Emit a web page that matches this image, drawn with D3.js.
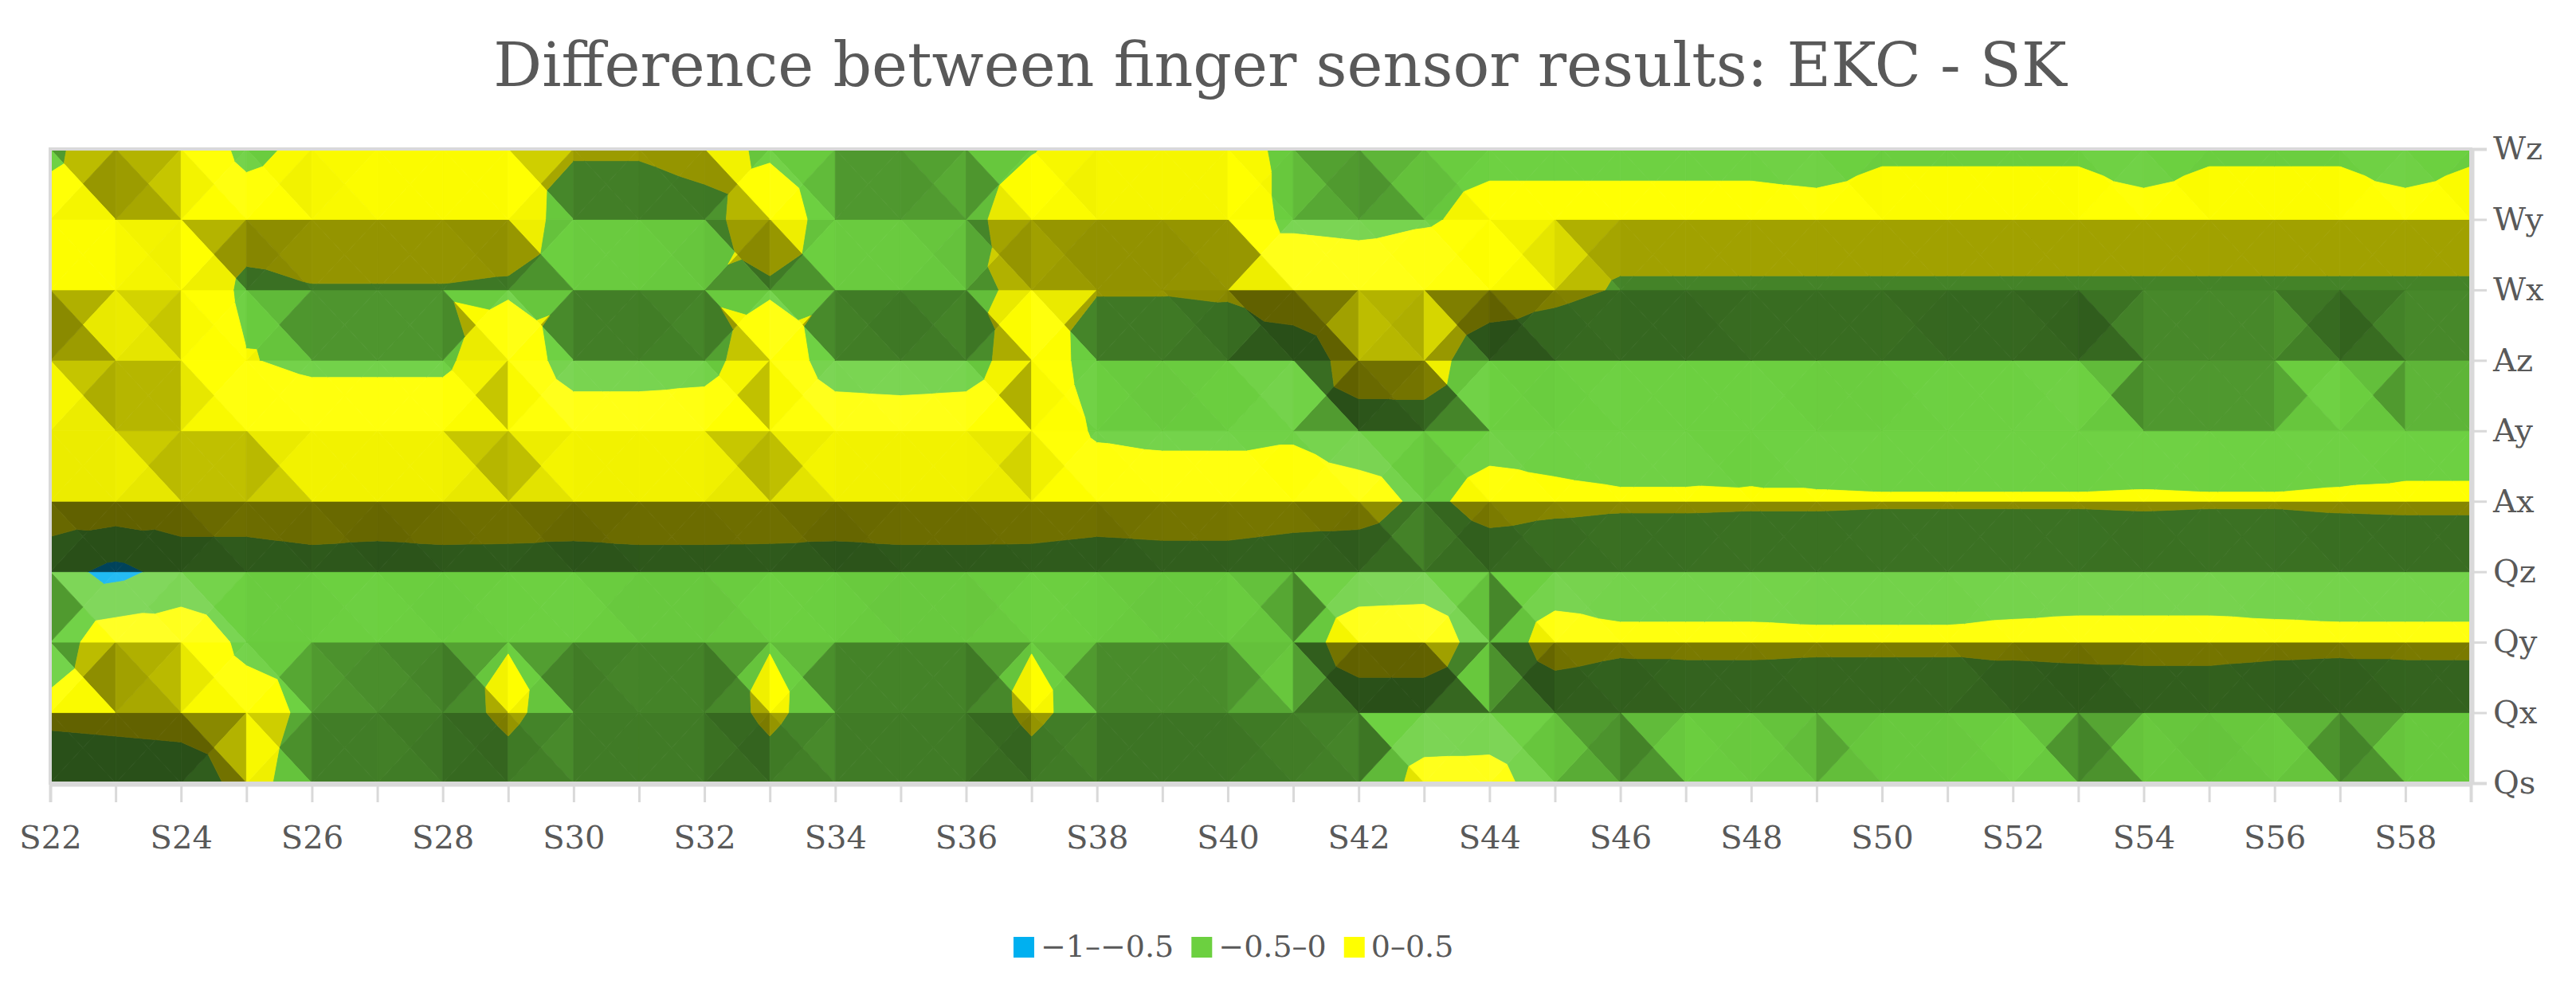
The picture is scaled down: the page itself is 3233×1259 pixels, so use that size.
<!DOCTYPE html>
<html>
<head>
<meta charset="utf-8">
<script src="https://cdn.jsdelivr.net/npm/d3@7"></script>
<style>
  body { margin: 0; background: #fff; }
  svg { font-family: "DejaVu Serif", serif; }
</style>
</head>
<body>
<svg id="chart"></svg>
<script>
var categories = [];
for (var k = 22; k <= 59; k++) categories.push("S" + k);

var rows = ["Qs", "Qx", "Qy", "Qz", "Ax", "Ay", "Az", "Wx", "Wy", "Wz"];

// one array per sensor row, S22..S59
var Qs = [-0.45,-0.4,-0.35,0.2,-0.3,-0.35,-0.45,-0.2,-0.45,-0.45,-0.45,-0.2,-0.45,-0.45,-0.45,-0.2,-0.45,-0.45,-0.45,-0.45,-0.45,0.2,0.2,-0.3,-0.45,-0.15,-0.2,-0.3,-0.2,-0.2,-0.2,-0.45,-0.2,-0.25,-0.25,-0.45,-0.2,-0.2];
var Qx = [0.15,0.2,0.25,0.2,-0.1,-0.15,-0.2,0.1,-0.25,-0.25,-0.25,0.1,-0.25,-0.25,-0.25,0.1,-0.2,-0.2,-0.2,-0.25,-0.3,-0.35,-0.3,-0.3,-0.35,-0.3,-0.3,-0.3,-0.3,-0.3,-0.35,-0.35,-0.3,-0.3,-0.35,-0.35,-0.3,-0.3];
var Qy = [-0.3,0.35,0.3,-0.1,-0.05,-0.05,-0.05,-0.02,-0.05,-0.1,-0.1,-0.02,-0.1,-0.1,-0.1,-0.02,-0.1,-0.1,-0.1,-0.3,0.3,0.35,-0.3,0.2,0.1,0.1,0.1,0.08,0.08,0.08,0.12,0.15,0.15,0.15,0.12,0.1,0.1,0.1];
var Qz = [-0.3,-0.65,-0.3,-0.25,-0.2,-0.25,-0.2,-0.2,-0.25,-0.2,-0.2,-0.2,-0.25,-0.2,-0.2,-0.2,-0.25,-0.2,-0.2,-0.25,-0.3,-0.3,-0.25,-0.25,-0.25,-0.25,-0.25,-0.25,-0.25,-0.25,-0.25,-0.25,-0.25,-0.25,-0.25,-0.25,-0.25,-0.25];
var Ax = [0.3,0.35,0.3,0.25,0.32,0.32,0.32,0.3,0.32,0.32,0.32,0.3,0.32,0.32,0.32,0.3,0.25,0.25,0.25,0.2,0.2,-0.1,0.15,0.08,0.05,0.05,0.04,0.04,0.03,0.03,0.03,0.03,0.04,0.03,0.03,0.05,0.06,0.06];
var Ay = [0.25,0.3,0.35,0.3,0.25,0.25,0.25,0.35,0.25,0.25,0.25,0.35,0.25,0.25,0.25,0.3,-0.05,-0.1,-0.1,-0.05,-0.25,-0.2,-0.15,-0.15,-0.2,-0.2,-0.15,-0.2,-0.2,-0.2,-0.2,-0.2,-0.2,-0.2,-0.2,-0.2,-0.15,-0.15];
var Az = [0.1,0.35,0.4,0.02,-0.08,-0.08,-0.08,0.3,-0.2,-0.2,-0.15,0.3,-0.2,-0.25,-0.2,0.3,-0.2,-0.2,-0.25,-0.4,0.3,0.25,-0.35,-0.3,-0.4,-0.4,-0.35,-0.35,-0.35,-0.4,-0.4,-0.45,-0.15,-0.15,-0.15,-0.4,-0.15,-0.15];
var Wx = [0.35,0.3,0.4,-0.1,-0.02,-0.02,-0.02,-0.05,-0.02,-0.02,-0.02,-0.05,-0.02,-0.02,-0.05,0.05,0.02,0.02,0.05,0.4,0.35,0.35,0.3,0.1,-0.03,-0.03,-0.03,-0.03,-0.03,-0.03,-0.03,-0.03,-0.03,-0.03,-0.03,-0.03,-0.03,-0.03];
var Wy = [0.2,0.15,0.3,0.2,0.2,0.2,0.2,0.2,-0.15,-0.15,-0.1,0.2,-0.15,-0.15,-0.1,0.2,0.25,0.25,0.25,-0.1,-0.15,-0.05,0.12,0.12,0.12,0.12,0.12,0.12,0.12,0.12,0.12,0.12,0.12,0.12,0.12,0.12,0.12,0.12];
var Wz = [-0.1,0.3,0.3,-0.1,0.1,0.05,0.05,0.05,0.03,0.03,0.1,-0.05,-0.1,-0.1,-0.1,-0.02,0.15,0.15,0.15,-0.1,-0.1,-0.1,-0.1,-0.1,-0.1,-0.1,-0.1,-0.15,-0.04,-0.04,-0.04,-0.04,-0.15,-0.04,-0.04,-0.04,-0.15,-0.04];

var bandLabels = ["\u22121\u2013\u22120.5", "\u22120.5\u20130", "0\u20130.5"];
var bandEdges = [-1, -0.5, 0, 0.5];
var bandColors = ["#00b0f0", "#6cd040", "#ffff00"];

var grid = [Qs, Qx, Qy, Qz, Ax, Ay, Az, Wx, Wy, Wz];

var W = 3233, H = 1259;
var margin = {left: 63, right: 132, top: 187, bottom: 276};

var svg = d3.select("#chart").attr("width", W).attr("height", H);

var x = d3.scalePoint().domain(categories).range([margin.left, W - margin.right]);
var y = d3.scalePoint().domain(rows).range([H - margin.bottom, margin.top]);
var dx = x.step(), dy = y.step();

function clip(poly, v, keepAbove) {
  var out = [];
  for (var i = 0; i < poly.length; i++) {
    var a = poly[i], b = poly[(i + 1) % poly.length];
    var ina = keepAbove ? a[2] >= v : a[2] <= v;
    var inb = keepAbove ? b[2] >= v : b[2] <= v;
    if (ina) out.push(a);
    if (ina !== inb) {
      var t = (v - a[2]) / (b[2] - a[2]);
      out.push([a[0] + t * (b[0] - a[0]), a[1] + t * (b[1] - a[1]), v]);
    }
  }
  return out;
}

function shade(col, tri) {
  // slope of the facet in value units per column / per row
  var p = tri[0], q = tri[1], r = tri[2];
  var ux = (q[0] - p[0]) / dx, uy = -(q[1] - p[1]) / dy, uz = q[2] - p[2];
  var vx = (r[0] - p[0]) / dx, vy = -(r[1] - p[1]) / dy, vz = r[2] - p[2];
  var det = ux * vy - uy * vx;
  var gx = (uz * vy - uy * vz) / det;
  var gy = (ux * vz - uz * vx) / det;
  var s = gy + 0.3 * gx;
  var f = s > 0 ? 0.87 - 0.62 * Math.sqrt(s) : 0.87 + 0.3 * Math.sqrt(-s);
  f = Math.max(0.38, Math.min(1.12, f));
  var c = d3.rgb(col);
  if (f <= 1) return d3.rgb(c.r * f, c.g * f, c.b * f).toString();
  var m = (f - 1) * 1.2;
  return d3.rgb(c.r + (255 - c.r) * m, c.g + (255 - c.g) * m, c.b + (255 - c.b) * m).toString();
}

var facets = [];
for (var j = 0; j < rows.length - 1; j++) {
  for (var i = 0; i < categories.length - 1; i++) {
    var x0 = x(categories[i]), x1 = x(categories[i + 1]);
    var yb = y(rows[j]), yt = y(rows[j + 1]);
    var bl = [x0, yb, grid[j][i]], br = [x1, yb, grid[j][i + 1]];
    var tl = [x0, yt, grid[j + 1][i]], tr = [x1, yt, grid[j + 1][i + 1]];
    var ctr = [(x0 + x1) / 2, (yb + yt) / 2, (bl[2] + br[2] + tl[2] + tr[2]) / 4];
    [[tl, tr, ctr], [tr, br, ctr], [br, bl, ctr], [bl, tl, ctr]].forEach(function(tri) {
      for (var b = 0; b < bandColors.length; b++) {
        var poly = clip(clip(tri, bandEdges[b], true), bandEdges[b + 1], false);
        if (poly.length >= 3) facets.push({poly: poly, fill: shade(bandColors[b], tri)});
      }
    });
  }
}

svg.append("g").selectAll("path")
  .data(facets)
  .enter()
  .append("path")
  .attr("d", function(d) { return "M" + d.poly.map(function(p) { return p[0] + "," + p[1]; }).join("L") + "Z"; })
  .attr("fill", function(d) { return d.fill; })
  .attr("stroke", function(d) { return d.fill; })
  .attr("stroke-width", 0.8);

// frame
svg.append("rect")
  .attr("x", margin.left).attr("y", margin.top)
  .attr("width", W - margin.left - margin.right)
  .attr("height", H - margin.top - margin.bottom)
  .attr("fill", "none").attr("stroke", "#d9d9d9").attr("stroke-width", 4);

var xAxis = svg.append("g")
  .attr("transform", "translate(0," + (H - margin.bottom + 2) + ")")
  .call(d3.axisBottom(x).tickSize(22).tickPadding(30)
    .tickFormat(function(d, i) { return i % 2 === 0 ? d : ""; }));
xAxis.select(".domain").attr("stroke", "#d9d9d9").attr("stroke-width", 4);
xAxis.selectAll(".tick line").attr("stroke", "#d9d9d9").attr("stroke-width", 3);
xAxis.selectAll("text").attr("font-size", 40).attr("fill", "#595959")
  .attr("font-family", "DejaVu Serif, serif");

var yAxis = svg.append("g")
  .attr("transform", "translate(" + (W - margin.right + 2) + ",0)")
  .call(d3.axisRight(y).tickSize(18).tickPadding(8));
yAxis.select(".domain").attr("stroke", "#d9d9d9").attr("stroke-width", 4);
yAxis.selectAll(".tick line").attr("stroke", "#d9d9d9").attr("stroke-width", 3);
yAxis.selectAll("text").attr("font-size", 40).attr("fill", "#595959")
  .attr("font-family", "DejaVu Serif, serif");

svg.append("text")
  .attr("x", W / 2 - 10).attr("y", 108)
  .attr("text-anchor", "middle")
  .attr("font-size", 76).attr("fill", "#595959")
  .text("Difference between finger sensor results: EKC - SK");

var legend = svg.append("g").attr("transform", "translate(1272,1192)");
var lx = 0;
bandLabels.forEach(function(lab, i) {
  var g = legend.append("g").attr("transform", "translate(" + lx + ",0)");
  g.append("rect").attr("x", 0).attr("y", -16).attr("width", 26).attr("height", 26).attr("fill", bandColors[i]);
  var t = g.append("text").attr("x", 34).attr("y", 9).attr("font-size", 38).attr("fill", "#595959").text(lab);
  lx += 34 + t.node().getComputedTextLength() + 22;
});
</script>
</body>
</html>
